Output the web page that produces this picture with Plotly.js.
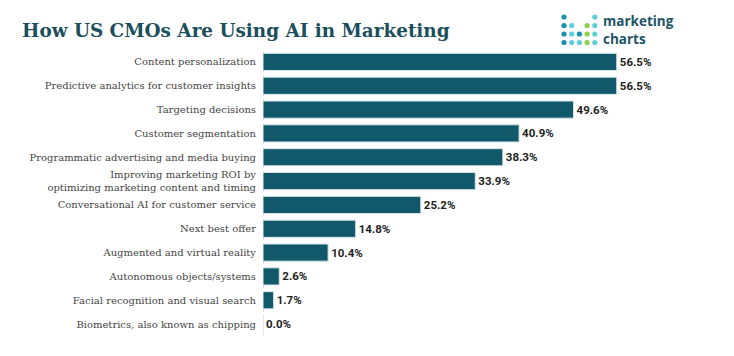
<!DOCTYPE html>
<html>
<head>
<meta charset="utf-8">
<script src="https://cdn.plot.ly/plotly-3.0.1.min.js"></script>
<style>html,body{margin:0;padding:0;background:#fff;}#chart{width:734px;height:356px;}</style>
</head>
<body>
<div id="chart"></div>
<script>
const categories = [
  "Content personalization",
  "Predictive analytics for customer insights",
  "Targeting decisions",
  "Customer segmentation",
  "Programmatic advertising and media buying",
  "Improving marketing ROI by<br>optimizing marketing content and timing",
  "Conversational AI for customer service",
  "Next best offer",
  "Augmented and virtual reality",
  "Autonomous objects/systems",
  "Facial recognition and visual search",
  "Biometrics, also known as chipping"
];
const values = [56.5, 56.5, 49.6, 40.9, 38.3, 33.9, 25.2, 14.8, 10.4, 2.6, 1.7, 0.0];
const titleText = "How US CMOs Are Using AI in Marketing";
const logoWords = ["marketing", "charts"];

// logo dot grid: [col, row, colorIndex]
const logoDots = [
  [0,0,0],[4,0,1],
  [0,1,0],[1,1,1],[3,1,2],[4,1,1],
  [0,2,0],[1,2,1],[2,2,0],[3,2,2],[4,2,1],
  [0,3,0],[1,3,1],[2,3,1],[3,3,2],[4,3,1]
];
const dotColors = ["#1a8fb0", "#5ccfd8", "#8fd14a"];

const W = 734, H = 356;
const shapes = [{
  type: "line", xref: "x", yref: "paper", x0: 0, x1: 0, y0: 0, y1: 1,
  line: {color: "#c8c8c8", width: 1, dash: "dot"}, layer: "below"
}];
logoDots.forEach(d => {
  const cx = 564 + d[0] * 7.7, cy = 17 + d[1] * 8.5, r = 2.6;
  shapes.push({
    type: "circle", xref: "paper", yref: "paper",
    x0: (cx - r - 263) / 407, x1: (cx + r - 263) / 407,
    y0: (336 - (cy + r)) / 286, y1: (336 - (cy - r)) / 286,
    fillcolor: dotColors[d[2]], line: {width: 0}
  });
});

const trace = {
  type: "bar", orientation: "h",
  x: values, y: categories,
  marker: {color: "#10586a", line: {color: "#d6e8ea", width: 1}},
  width: 0.72,
  text: values.map(v => v.toFixed(1) + "%"),
  textposition: "outside",
  textfont: {family: "Roboto, sans-serif", size: 11.5, color: "#222222", weight: "bold"},
  cliponaxis: false,
  hoverinfo: "none"
};

const layout = {
  width: W, height: H,
  margin: {l: 263, r: 64, t: 50, b: 20, pad: 0},
  paper_bgcolor: "#ffffff", plot_bgcolor: "#ffffff",
  showlegend: false,
  title: {
    text: "<b>" + titleText + "</b>",
    font: {family: "DejaVu Serif, serif", size: 18.4, color: "#1b4f5c"},
    xref: "container", yref: "container",
    x: 22 / W, xanchor: "left", y: 1 - 31 / H, yanchor: "middle"
  },
  xaxis: {range: [0, 65], showgrid: false, zeroline: false, showticklabels: false, ticks: "", fixedrange: true},
  yaxis: {
    autorange: "reversed", showgrid: false, zeroline: false, ticks: "",
    ticklabelstandoff: 6, automargin: false,
    tickfont: {family: "DejaVu Serif, serif", size: 10, color: "#444444"}
  },
  shapes: shapes,
  annotations: [
    {xref: "paper", yref: "paper", x: (602 - 263) / 407, y: (336 - 30) / 286, xanchor: "left", yanchor: "middle",
     align: "left", borderpad: 0,
     text: "<b>" + logoWords.join("<br>") + "</b>", showarrow: false,
     font: {family: "Open Sans, sans-serif", size: 13.5, color: "#1c5566"}}
  ]
};

Plotly.newPlot("chart", [trace], layout, {displayModeBar: false, staticPlot: true});
</script>
</body>
</html>
